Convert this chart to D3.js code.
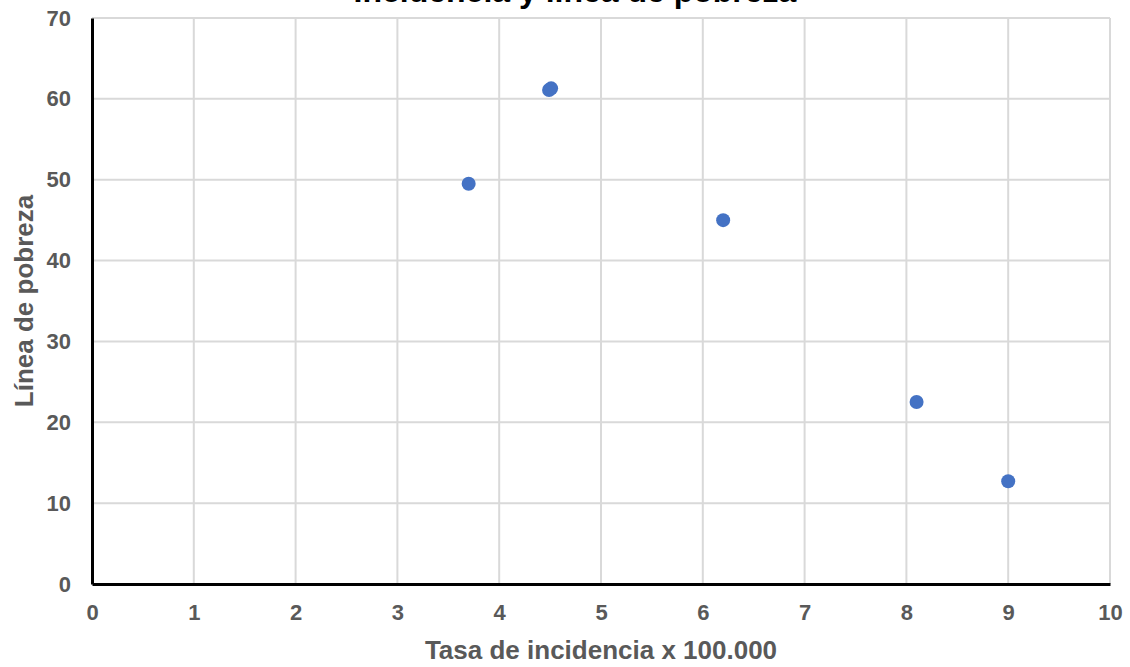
<!DOCTYPE html>
<html>
<head>
<meta charset="utf-8">
<script src="https://cdn.jsdelivr.net/npm/d3@7"></script>
<style>
  body { margin: 0; background: #fff; }
  text { font-family: Arial, "Liberation Sans", sans-serif; font-weight: bold; }
</style>
</head>
<body>
<div id="chart"></div>
<script>
// data
const tasaIncidencia = [3.7, 4.49, 4.51, 6.2, 8.1, 9.0];
const lineaPobreza = [49.5, 61.1, 61.3, 45.0, 22.5, 12.7];
const xTicks = [0, 1, 2, 3, 4, 5, 6, 7, 8, 9, 10];
const yTicks = [0, 10, 20, 30, 40, 50, 60, 70];
const chartTitle = "Incidencia y línea de pobreza";
const xTitle = "Tasa de incidencia x 100.000";
const yTitle = "Línea de pobreza";

const width = 1130, height = 667;
const margin = {top: 18, right: 20, bottom: 83, left: 92};
const innerW = width - margin.left - margin.right;
const innerH = height - margin.top - margin.bottom;

const svg = d3.select("#chart").append("svg")
    .attr("width", width)
    .attr("height", height);

const g = svg.append("g")
    .attr("transform", `translate(${margin.left},${margin.top})`);

const x = d3.scaleLinear().domain([0, 10]).range([0, innerW]);
const y = d3.scaleLinear().domain([0, 70]).range([innerH, 0]);

// grid
g.selectAll(".vgrid").data(xTicks.slice(1))
    .enter().append("line")
    .attr("class", "vgrid")
    .attr("x1", d => x(d)).attr("x2", d => x(d))
    .attr("y1", 0).attr("y2", innerH)
    .style("stroke", "#d9d9d9").style("stroke-width", "2px");

g.selectAll(".hgrid").data(yTicks.slice(1))
    .enter().append("line")
    .attr("class", "hgrid")
    .attr("x1", 0).attr("x2", innerW)
    .attr("y1", d => y(d)).attr("y2", d => y(d))
    .style("stroke", "#d9d9d9").style("stroke-width", "2px");

// axes
const xAxis = g.append("g")
    .attr("transform", `translate(0,${innerH})`)
    .call(d3.axisBottom(x).tickValues(xTicks).tickSize(0).tickPadding(20).tickFormat(d3.format("d")));
const yAxis = g.append("g")
    .call(d3.axisLeft(y).tickValues(yTicks).tickSize(0).tickPadding(21).tickFormat(d3.format("d")));

[xAxis, yAxis].forEach(a => {
    a.select(".domain").style("stroke", "#000").style("stroke-width", "3px");
    a.selectAll("text")
        .style("font-size", "22px")
        .style("font-family", "Arial, 'Liberation Sans', sans-serif")
        .style("font-weight", "bold")
        .attr("fill", "#595959");
});

// points
g.selectAll(".dot").data(tasaIncidencia)
    .enter().append("circle")
    .attr("class", "dot")
    .attr("cx", d => x(d))
    .attr("cy", (d, i) => y(lineaPobreza[i]))
    .attr("r", 7)
    .style("fill", "#4472C4");

// titles
svg.append("text")
    .attr("x", 575).attr("y", 2)
    .attr("text-anchor", "middle")
    .style("font-size", "32px")
    .attr("fill", "#000")
    .text(chartTitle);

svg.append("text")
    .attr("x", margin.left + innerW / 2).attr("y", 659)
    .attr("text-anchor", "middle")
    .style("font-size", "26px")
    .attr("fill", "#595959")
    .text(xTitle);

svg.append("text")
    .attr("transform", `translate(33,${margin.top + innerH / 2}) rotate(-90)`)
    .attr("text-anchor", "middle")
    .style("font-size", "26px")
    .attr("fill", "#595959")
    .text(yTitle);
</script>
</body>
</html>
